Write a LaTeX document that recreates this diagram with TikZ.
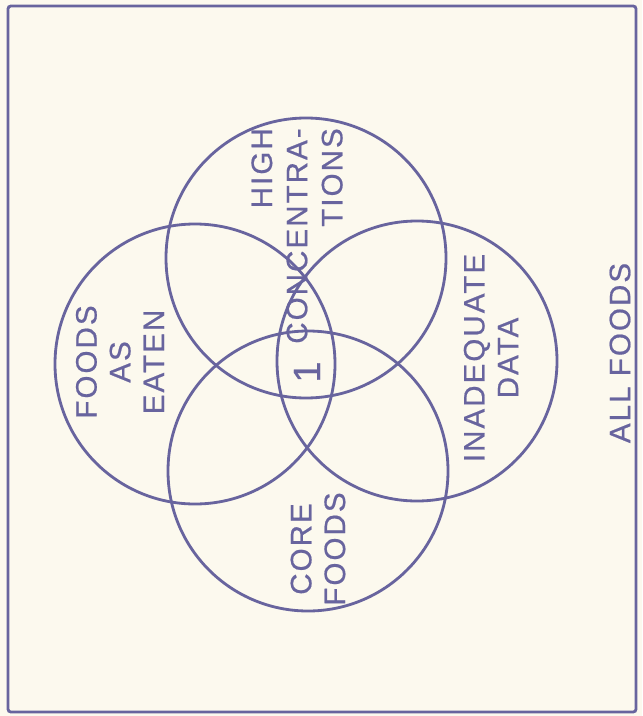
\documentclass[tikz,border=0pt]{standalone}
\usepackage{fontspec}
\setmainfont{Liberation Sans}
\newfontfamily\lettering[LetterSpace=7, FakeBold=0.6]{Liberation Sans}
\usepackage{tikz}
\usetikzlibrary{positioning}

\definecolor{ink}{RGB}{104,100,158}
\definecolor{paper}{RGB}{252,249,238}

\begin{document}
\begin{tikzpicture}

		\tikzstyle{ring} = [draw=ink, circle, line width=2pt, minimum size=7cm, inner sep=0pt]
		\tikzstyle{setlabel} = [text=ink, rotate=90, align=center, inner sep=0pt, font=\lettering\fontsize{21}{24}\selectfont]

		\fill[paper] (0,0) rectangle (16.05,-17.9);
		\useasboundingbox (0,0) rectangle (16.05,-17.9);

		\node[draw=ink, line width=2pt, rounded corners=2pt, minimum width=15.7cm, minimum height=17.65cm, inner sep=0pt] (all_foods) at (8.05,-8.975) {};

		\node[ring] (high_conc) at (7.65,-6.45) {};
		\node[ring] (as_eaten) at (4.875,-9.1) {};
		\node[ring] (inadequate) at (10.425,-9.025) {};
		\node[ring] (core) at (7.7,-11.775) {};

		\node[setlabel, anchor=east, align=right, font=\lettering\fontsize{21}{25}\selectfont] (high_conc_text) at (7.425,-3.2) {HIGH\\CONCENTRA-\\TIONS};
		\node[setlabel] (as_eaten_text) at (3.0,-9.05) {FOODS\\AS\\EATEN};
		\node[setlabel] (inadequate_text) at (12.275,-8.95) {INADEQUATE\\DATA};
		\node[setlabel] (core_text) at (7.95,-13.725) {CORE\\FOODS};
		\node[setlabel] (all_foods_text) at (15.5,-8.825) {ALL FOODS};

		\node[setlabel, font=\lettering\fontsize{27}{30}\selectfont] (overlap) at (7.675,-9.3) {1};

	\end{tikzpicture}
\end{document}
